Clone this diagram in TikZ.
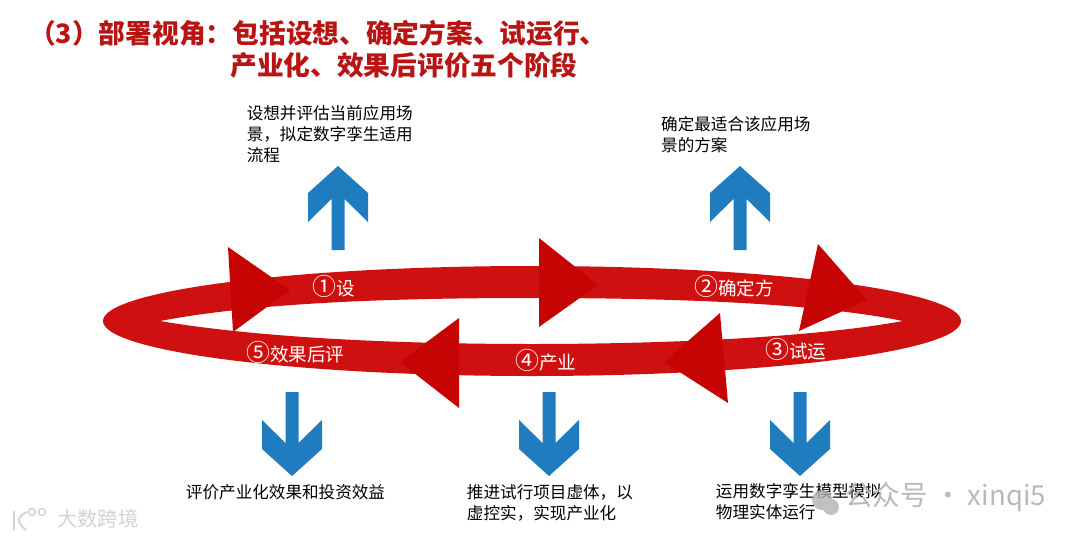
\documentclass[tikz,border=0pt]{standalone}
\usepackage{fontspec}
\usepackage{xcolor}
\setmainfont{Noto Sans CJK SC}
\usetikzlibrary{positioning}
\definecolor{titlered}{HTML}{B81414}
\definecolor{ringred}{HTML}{CF1010}
\definecolor{headred}{HTML}{C60404}
\definecolor{arrowblue}{HTML}{1F7CBF}
\newcommand{\ringnum}[1]{{\fontsize{17}{20}\selectfont #1}}
\tikzstyle{heading} = [anchor=west, inner sep=0pt, text=titlered, font=\fontsize{19}{23}\selectfont\bfseries]
\tikzstyle{desc} = [text width=4.5cm, align=left, inner sep=0pt, font=\fontsize{11.8}{15}\selectfont]
\tikzstyle{ringtext} = [anchor=north west, align=left, inner sep=0pt, text=white, font=\fontsize{13.2}{18}\selectfont]
\tikzstyle{stamp} = [text=gray!55, inner sep=0pt]
\tikzset{bluearrow/.pic={
    \fill [arrowblue] (0,-42) -- (30,-15) -- (30,14) -- (6.5,-9) -- (6.5,42) -- (-6.5,42) -- (-6.5,-9) -- (-30,14) -- (-30,-15) -- cycle;
}}

\begin{document}
\begin{tikzpicture}[x=0.025cm, y=-0.025cm, node distance=2cm]
        \useasboundingbox (0,0) rectangle (1080,540);
        \node (title1) [heading] at (29,33) {（3）部署视角：包括设想、确定方案、试运行、};
        \node (title2) [heading] at (230,65) {产业化、效果后评价五个阶段};

        \fill [ringred, even odd rule] (532,321) ellipse [x radius=429, y radius=55]
            (160,321) .. controls (260,302) and (400,298) .. (532,298) .. controls (660,298) and (810,302) .. (903,321)
            .. controls (810,338) and (660,344) .. (532,344) .. controls (400,344) and (260,338) .. (160,321) -- cycle;

        \node (ring1) [ringtext] at (312,275) {\ringnum{①}设\\想};
        \node (ring2) [ringtext] at (694,275) {\ringnum{②}确定方\\案};
        \node (ring3) [ringtext] at (765,338) {\ringnum{③}试运\\行};
        \node (ring4) [ringtext] at (515,349) {\ringnum{④}产业\\化};
        \node (ring5) [ringtext] at (246,341) {\ringnum{⑤}效果后评\\价};

        \fill [headred] (228,247) -- (290,290) -- (233,332) -- cycle;
        \fill [headred] (539,238) -- (598,285) -- (539,327) -- cycle;
        \fill [headred] (818,244) -- (867,300) -- (799,331) -- cycle;
        \fill [headred] (720,313) -- (664,362) -- (728,403) -- cycle;
        \fill [headred] (459,318) -- (400,362) -- (459,408) -- cycle;

        \coordinate (up1) at (338,208);
        \coordinate (up2) at (740,208);
        \coordinate (down1) at (292,434);
        \coordinate (down2) at (549,434);
        \coordinate (down3) at (800,434);
        \pic at (up1) {bluearrow};
        \pic at (up2) {bluearrow};
        \pic [yscale=-1] at (down1) {bluearrow};
        \pic [yscale=-1] at (down2) {bluearrow};
        \pic [yscale=-1] at (down3) {bluearrow};

        \node (desc1) [desc, above of=up1, xshift=-0.03cm, yshift=-0.15cm] {设想并评估当前应用场\\景，拟定数字孪生适用\\流程};
        \node (desc2) [desc, above of=up2, xshift=0.28cm, yshift=-0.16cm] {确定最适合该应用场\\景的方案};
        \node (desc3) [desc, below of=down1, xshift=-0.4cm, yshift=0.55cm] {评价产业化效果和投资效益};
        \node (desc4) [desc, below of=down2, xshift=0.2cm, yshift=0.28cm] {推进试行项目虚体，以\\虚控实，实现产业化};
        \node (desc5) [desc, below of=down3, xshift=0.15cm, yshift=0.3cm] {运用数字孪生模型模拟\\物理实体运行};

        \fill [gray!60, opacity=0.8] (822,500) circle [radius=10] (831,507) circle [radius=8];
        \node (stamp1) [stamp, anchor=west, font=\fontsize{19.6}{24}\selectfont] at (845,497) {公众号 · xinqi5};
        \draw [gray!35, line width=1.3pt] (14,511) -- (14,530) (27,512) .. controls (17,516) and (16,522) .. (26,530);
        \draw [gray!35, line width=1pt] (32,512) circle [radius=3.5] (42,512) circle [radius=3.5];
        \node (stamp2) [stamp, anchor=west, text=gray!35, font=\fontsize{14.4}{18}\selectfont] at (57,519) {大数跨境};
\end{tikzpicture}
\end{document}
